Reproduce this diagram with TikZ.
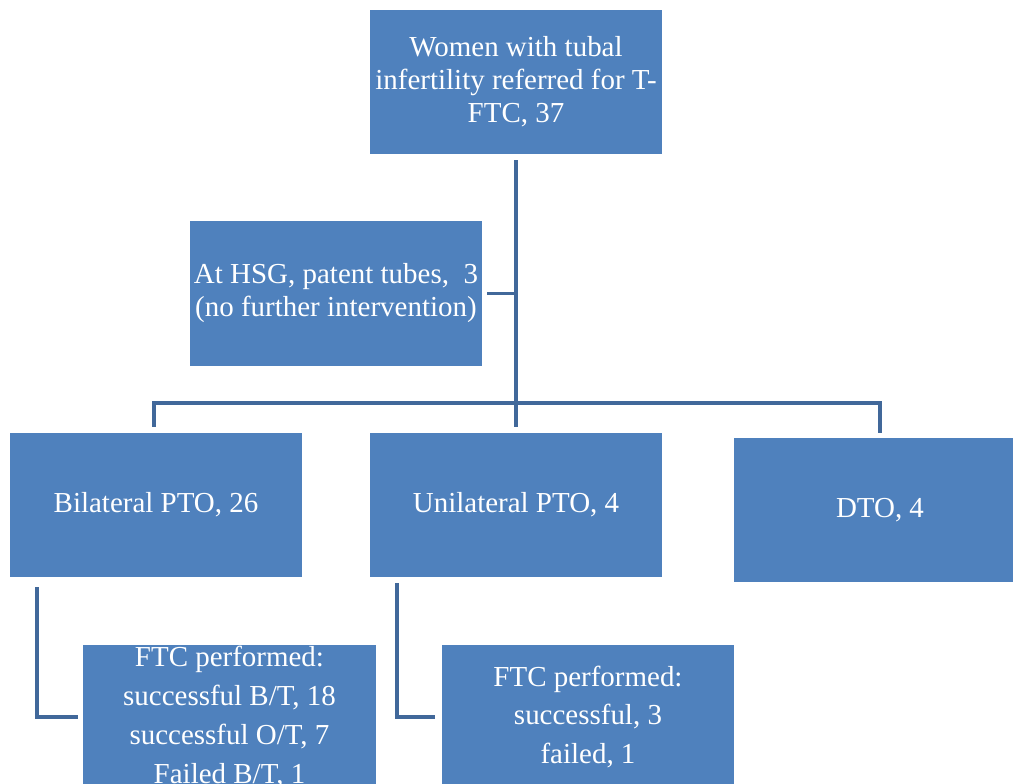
\documentclass[tikz,border=0pt]{standalone}
\usepackage{fontspec}
\setmainfont{Liberation Serif}
\usetikzlibrary{positioning}
\definecolor{boxblue}{HTML}{4F81BD}
\definecolor{linkblue}{HTML}{41689A}

\begin{document}
\begin{tikzpicture}
            [
            x=0.025cm,y=-0.025cm,
            stage/.style={fill=boxblue,text=white,align=center,inner sep=0pt,
                minimum width=7.3cm,minimum height=3.6cm,
                font={\fontsize{20.6}{23.5}\selectfont}},
            result/.style={stage,font={\fontsize{20.6}{27.7}\selectfont}},
            link/.style={draw=linkblue,line width=2.8pt},
            ]
            \useasboundingbox (0,0) rectangle (1013,783);
            \begin{scope}
            \clip (0,0) rectangle (1013,783);
            % Boxes
            \node[stage] (women) at (516,82) {Women with tubal\\infertility referred for T-\\FTC, 37};
            \node[stage] (hsg) at (336,293.5) {At HSG, patent tubes,~~3\\(no further intervention)};
            \node[stage] (bilat) at (156,505) {Bilateral PTO, 26};
            \node[stage] (unilat) at (516,505) {Unilateral PTO, 4};
            \node[stage] (dto) at (880,510) {DTO, 4};
            \node[result] (ftcb) at (229.5,717) {FTC performed:\\successful B/T, 18\\successful O/T, 7\\Failed B/T, 1};
            \node[result] (ftcu) at (588,717) {FTC performed:\\successful, 3\\failed, 1};

            % Connectors
            \coordinate (split) at (516,403);
            \draw[link] ([yshift=-0.15cm]women.south) -- ([yshift=0.15cm]unilat.north);
            \draw[link] ([xshift=0.125cm]hsg.east) -- (hsg.east -| women.south);
            \draw[link] ([xshift=-0.05cm,yshift=0.15cm]bilat.north) |- (split) -| ([yshift=0.125cm]dto.north);
            \draw[link] ([xshift=0.675cm,yshift=-0.25cm]bilat.south west) |- ([xshift=-0.125cm]ftcb.west);
            \draw[link] ([xshift=0.675cm,yshift=-0.15cm]unilat.south west) |- ([xshift=-0.175cm]ftcu.west);
            \end{scope}
        \end{tikzpicture}
\end{document}
